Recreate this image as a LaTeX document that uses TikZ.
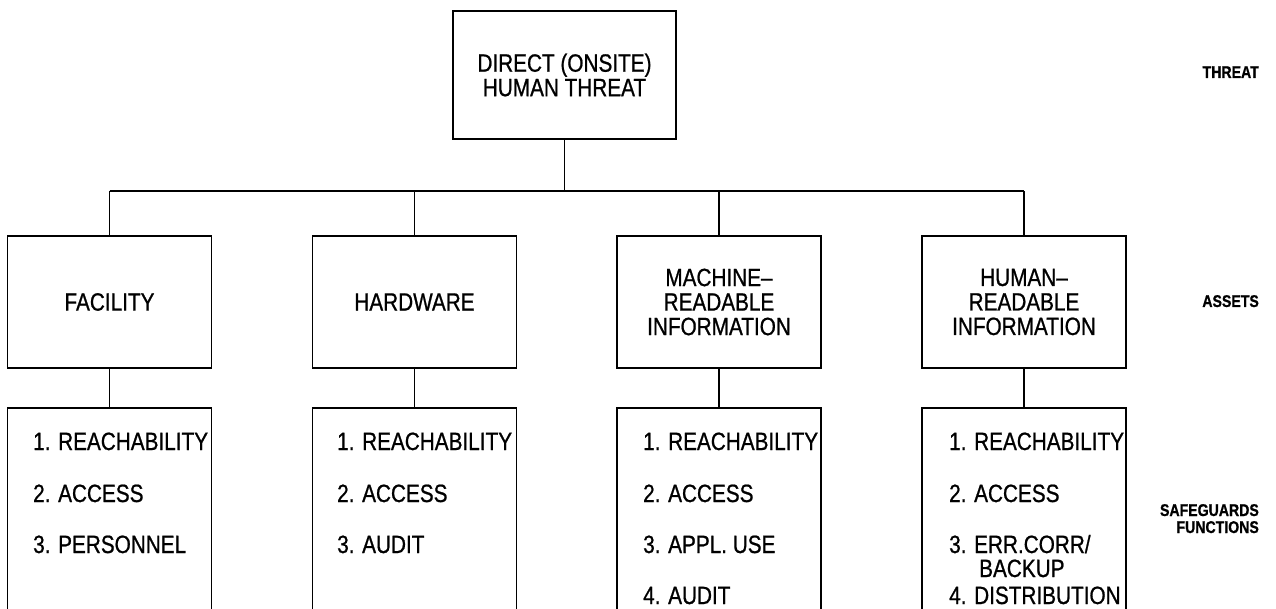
\documentclass[tikz,border=0pt]{standalone}
\usepackage{fontspec}
\setmainfont{Liberation Sans}[FakeStretch=0.83,FakeBold=0.8]
\begin{document}
\begin{tikzpicture}[x=1pt,y=-1pt,
  box/.style={draw, line width=1.3pt, inner sep=0pt, align=center,
    font=\fontsize{25}{24.5}\selectfont},
  asset/.style={box, minimum width=204pt, minimum height=132pt},
  funcbox/.style={draw, line width=1.3pt, inner sep=0pt, minimum width=204pt, minimum height=232pt},
  item/.style={anchor=base west, inner sep=0pt, font=\fontsize{25}{24}\selectfont},
  side/.style={anchor=base east, inner sep=0pt, align=right,
    font=\bfseries\fontsize{17}{17}\selectfont},
  conn/.style={line width=1.3pt}]
\useasboundingbox (0,0) rectangle (1276,609);
\clip (0,0) rectangle (1276,609);

% threat
\node[box, minimum width=223pt, minimum height=128pt] (top) at (564.5,75)
  {DIRECT (ONSITE)\\HUMAN THREAT};

% assets
\node[asset] (fac) at (109.5,302) {FACILITY};
\node[asset] (hw)  at (414.5,302) {HARDWARE};
\node[asset] (mri) at (719,302) {MACHINE--\\READABLE\\INFORMATION};
\node[asset] (hri) at (1024,302) {HUMAN--\\READABLE\\INFORMATION};

% safeguard function boxes (cut by the lower edge)
\node[funcbox] (facs) at (109.5,524) {};
\node[funcbox] (hws)  at (414.5,524) {};
\node[funcbox] (mris) at (719,524) {};
\node[funcbox] (hris) at (1024,524) {};

% connectors
\coordinate (bus) at (0,191);
\draw[conn] (top.south) -- (top.south |- bus);
\draw[conn] (fac.north |- bus) -- (hri.north |- bus);
\foreach \n in {fac,hw,mri,hri}{
  \draw[conn] (\n.north |- bus) -- (\n.north);
  \draw[conn] (\n.south) -- (\n s.north);
}

% items
\node[item] (f1) at (33,450) {1. REACHABILITY};
\node[item] (f2) at (33,502) {2. ACCESS};
\node[item] (f3) at (33,553) {3. PERSONNEL};

\node[item] (h1) at (337,450) {1. REACHABILITY};
\node[item] (h2) at (337,502) {2. ACCESS};
\node[item] (h3) at (337,553) {3. AUDIT};

\node[item] (m1) at (643,450) {1. REACHABILITY};
\node[item] (m2) at (643,502) {2. ACCESS};
\node[item] (m3) at (643,553) {3. APPL. USE};
\node[item] (m4) at (643,604) {4. AUDIT};

\node[item] (r1) at (949,450) {1. REACHABILITY};
\node[item] (r2) at (949,502) {2. ACCESS};
\node[item] (r3) at (949,553) {3. ERR.CORR/};
\node[item] (r3b) at (979,577) {BACKUP};
\node[item] (r4) at (949,604) {4. DISTRIBUTION};

% level labels
\node[side] (lthreat) at (1259,78) {THREAT};
\node[side] (lassets) at (1259,307) {ASSETS};
\node[side] (lsafe) at (1259,516) {SAFEGUARDS};
\node[side] (lfunc) at (1259,533) {FUNCTIONS};
\end{tikzpicture}
\end{document}
